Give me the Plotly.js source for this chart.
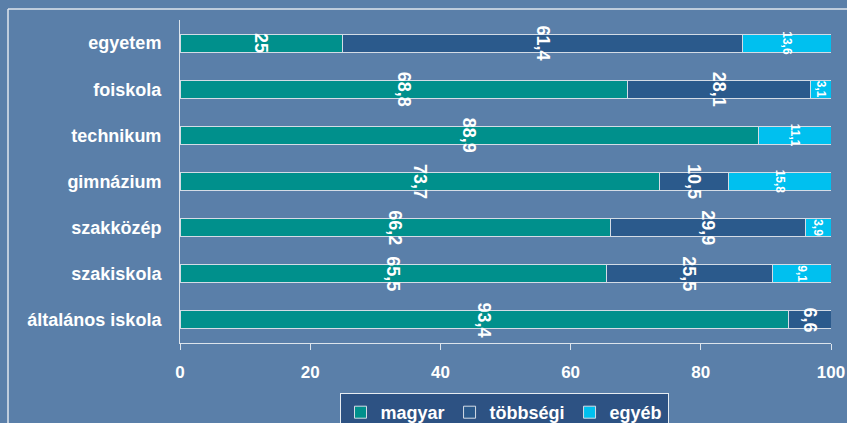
<!DOCTYPE html>
<html>
<head>
<meta charset="utf-8">
<script src="https://cdn.plot.ly/plotly-3.0.1.min.js"></script>
<style>html,body{margin:0;padding:0;background:#5a7fa9;}#chart{width:847px;height:423px;}</style>
</head>
<body>
<div id="chart"></div>
<script>
const categories = ['általános iskola', 'szakiskola', 'szakközép', 'gimnázium', 'technikum', 'foiskola', 'egyetem'];
const magyar   = [93.4, 65.5, 66.2, 73.7, 88.9, 68.8, 25];
const tobbsegi = [6.6, 25.5, 29.9, 10.5, null, 28.1, 61.4];
const egyeb    = [null, 9.1, 3.9, 15.8, 11.1, 3.1, 13.6];
const seriesNames = ['magyar', 'többségi', 'egyéb'];
const xTicks = [0, 20, 40, 60, 80, 100];

const colors = ['#00908c', '#2b5a8c', '#00c0ef'];
const textSizes = [18, 18, 12];
const allSeries = [magyar, tobbsegi, egyeb];

const traces = allSeries.map((vals, i) => ({
  type: 'bar',
  orientation: 'h',
  name: '<b>' + seriesNames[i] + '</b>',
  y: categories,
  x: vals,
  texttemplate: '<b>%{x}</b>',
  textposition: 'inside',
  insidetextanchor: 'middle',
  textangle: 90,
  constraintext: 'none',
  insidetextfont: {family: 'Liberation Sans, Arial, sans-serif', size: textSizes[i], color: '#ffffff'},
  marker: {color: colors[i], line: {color: '#d4dce6', width: 1}},
  hoverinfo: 'none'
}));

const L = 180, R = 16, T = 20, B = 80, W = 847, H = 423;
const pw = W - L - R, ph = H - T - B;
const px = v => (v - L) / pw;
const py = v => (H - B - v) / ph;

const layout = {
  width: W, height: H,
  margin: {l: L, r: R, t: T, b: B, autoexpand: false},
  paper_bgcolor: '#5a7fa9',
  plot_bgcolor: 'rgba(0,0,0,0)',
  barmode: 'stack',
  bargap: 0.61,
  separators: ', ',
  showlegend: true,
  font: {family: 'Liberation Sans, Arial, sans-serif', color: '#ffffff', size: 15},
  xaxis: {
    range: [0, 100], tickvals: xTicks, ticktext: xTicks.map(v => '<b>' + v + '</b>'),
    showgrid: false, zeroline: false, automargin: false,
    showline: true, linecolor: '#dce4ec', linewidth: 1,
    ticks: 'outside', ticklen: 6, tickcolor: '#dce4ec',
    ticklabelstandoff: 8,
    tickfont: {size: 17, color: '#ffffff'}
  },
  yaxis: {
    type: 'category', categoryorder: 'array', categoryarray: categories,
    range: [-0.5, 6.5], automargin: false,
    showgrid: false, zeroline: false,
    showline: true, linecolor: '#dce4ec', linewidth: 1,
    ticks: '', ticklabelstandoff: 14,
    tickmode: 'array', tickvals: categories, ticktext: categories.map(c => '<b>' + c + '</b>'),
    tickfont: {size: 18, color: '#ffffff'}
  },
  legend: {
    orientation: 'h', xref: 'container', yref: 'container',
    x: 504 / W, xanchor: 'center', y: 1 - 393 / H, yanchor: 'top',
    bgcolor: '#2d5283', bordercolor: '#e6ecf2', borderwidth: 1,
    font: {size: 18, color: '#ffffff'},
    traceorder: 'normal', itemwidth: 30, tracegroupgap: 0
  },
  shapes: [
    {type: 'line', xref: 'paper', yref: 'paper', x0: px(8), x1: px(847), y0: py(9), y1: py(9), line: {color: '#e0e6ee', width: 1.5}},
    {type: 'line', xref: 'paper', yref: 'paper', x0: px(8), x1: px(8), y0: py(9), y1: py(423), line: {color: '#e0e6ee', width: 1.5}}
  ]
};

Plotly.newPlot('chart', traces, layout, {displayModeBar: false, staticPlot: true});
</script>
</body>
</html>
